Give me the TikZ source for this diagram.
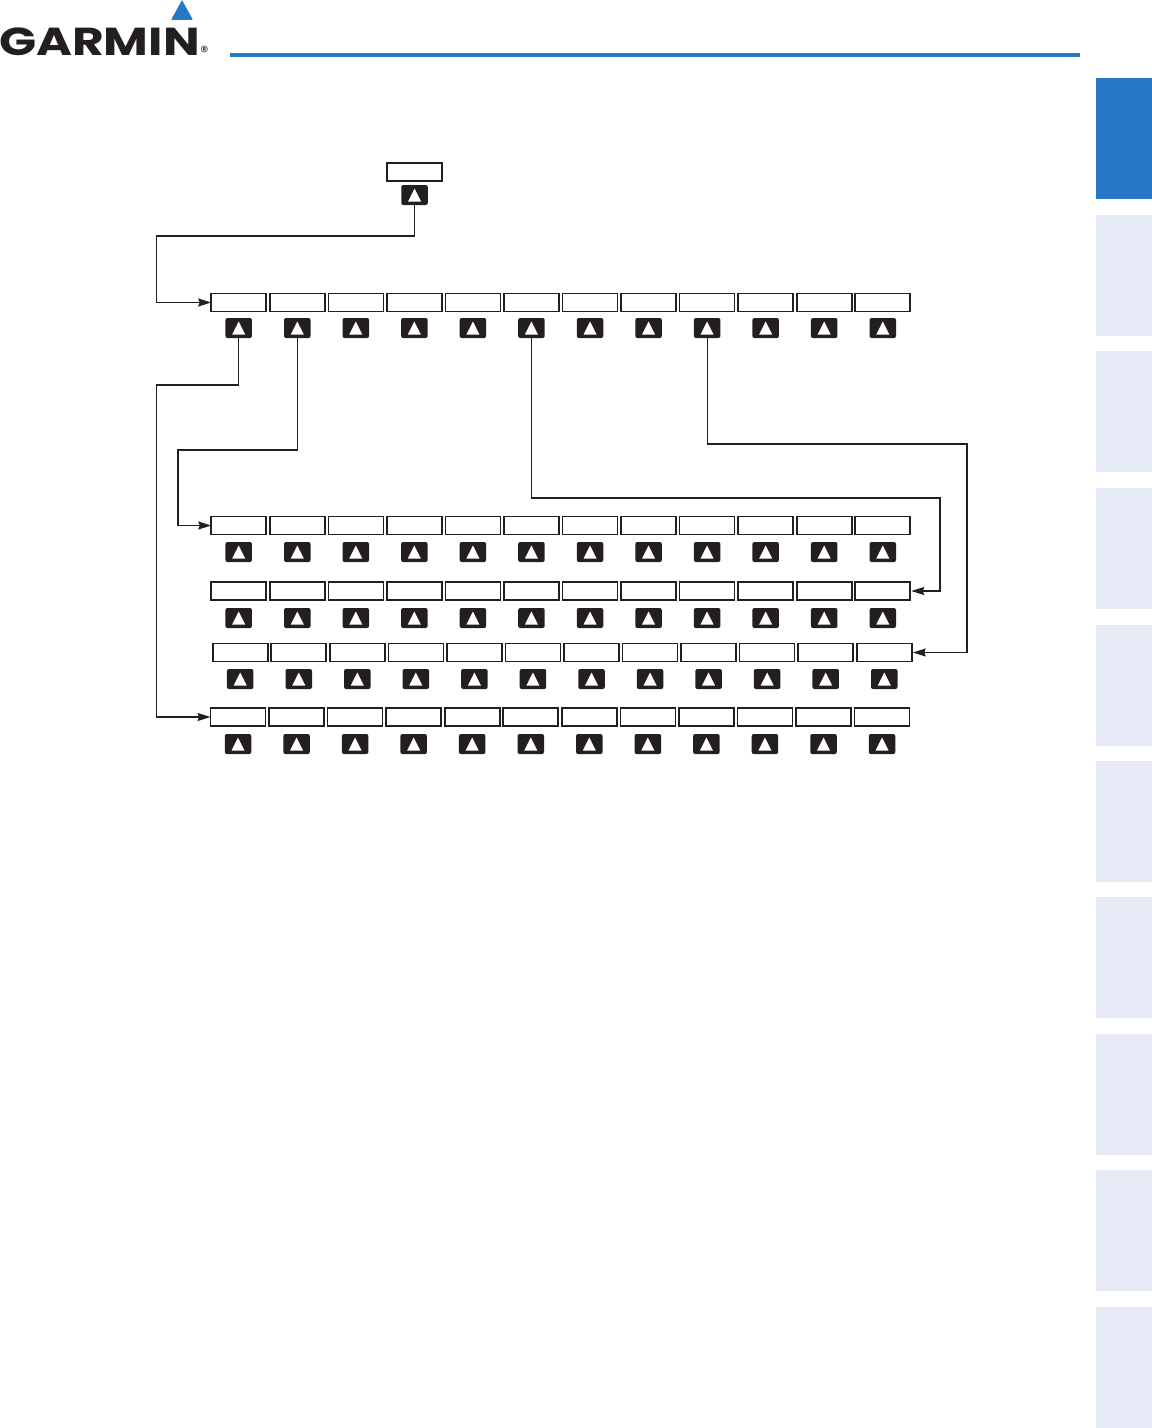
\documentclass[tikz,border=0pt]{standalone}
\usepackage{fontspec}
\setsansfont{Poppins}
\definecolor{gmblue}{HTML}{2878C8}
\definecolor{gmpale}{HTML}{E6EBF7}
\definecolor{gmdark}{HTML}{231F20}
\usetikzlibrary{arrows.meta, positioning, calc}

\begin{document}
\begin{tikzpicture}[
  x=1mm, y=-1mm,
  softkey/.style={draw=gmdark, line width=1.6mm, fill=white, minimum width=55mm,
                  minimum height=18mm, outer sep=0pt, inner sep=0pt},
  keybtn/.style={fill=gmdark, rounded corners=2mm, minimum width=26.5mm,
                 minimum height=20mm, outer sep=0pt, inner sep=0pt,
                 path picture={\fill[white, sharp corners]
                   ($(path picture bounding box.center)+(-6.5,6.5)$) --
                   ($(path picture bounding box.center)+(6.5,6.5)$) --
                   ($(path picture bounding box.center)+(0,-6.5)$) -- cycle;}},
  tabbox/.style={fill=gmpale, minimum width=56mm, minimum height=121mm,
                 anchor=north west, outer sep=0pt, inner sep=0pt},
  link/.style={draw=gmdark, line width=1.1mm,
               -{Stealth[length=13mm, width=8mm, inset=1.5mm]}},
  linkbold/.style={link, line width=1.7mm},
]
  \useasboundingbox (0,0) rectangle (1152,1428);

  % header
  \node[font=\sffamily\bfseries\fontsize{39mm}{44mm}\selectfont, text=gmdark, anchor=base west,
        inner sep=0pt, xscale=1.25, transform shape] (logo) at (-1,55.5) {GARMIN};
  \node[font=\sffamily\fontsize{16mm}{17mm}\selectfont, text=gmdark, inner sep=0pt] (regmark) at (204.5,52) {®};
  \fill[gmblue, rounded corners=1mm] (171,20) -- (193,20) -- (182,0) -- cycle;
  \fill[gmblue] (230,53) rectangle (1080,57);

  % side tabs
  \node[tabbox, fill=gmblue] (tab1) at (1096,78) {};
  \foreach \i/\y in {2/215,3/351,4/488,5/625,6/761,7/897,8/1034,9/1170,10/1307}
    \node[tabbox] (tab\i) at (1096,\y) {};

  % softkeys
  \node[softkey] (top) at (414.5,172) {};
  \node[keybtn] (topbtn) at (414.5,195) {};
  \foreach \rw/\xs/\yl/\yk in {a/238.7/302.5/328, b/238.7/525.5/552, c/238.7/591/618,
                               d/240.2/652.5/679, e/238/717/744} {
    \foreach \i in {1,...,12} {
      \node[softkey] (\rw\i) at ({\xs+58.55*(\i-1)},\yl) {};
      \node[keybtn] (\rw\i btn) at ({\xs+58.55*(\i-1)},\yk) {};
    }
  }

  % bends
  \coordinate (topbend) at (156.5,236);
  \coordinate (softbend) at (156.5,385);
  \coordinate (morebend) at (178,450);
  \coordinate (midbend) at (940,498);
  \coordinate (farbend) at (967,444);

  \draw[linkbold] (topbtn.south) |- (topbend) |- (a1.west);
  \draw[link] (a1btn.south) |- (softbend) |- (e1.west);
  \draw[link] (a2btn.south) |- (morebend) |- (b1.west);
  \draw[link] (a6btn.south) |- (midbend) |- ($(c12.east)+(1,0)$);
  \draw[link] (a9btn.south) |- (farbend) |- ($(d12.east)+(1,0)$);
\end{tikzpicture}
\end{document}
